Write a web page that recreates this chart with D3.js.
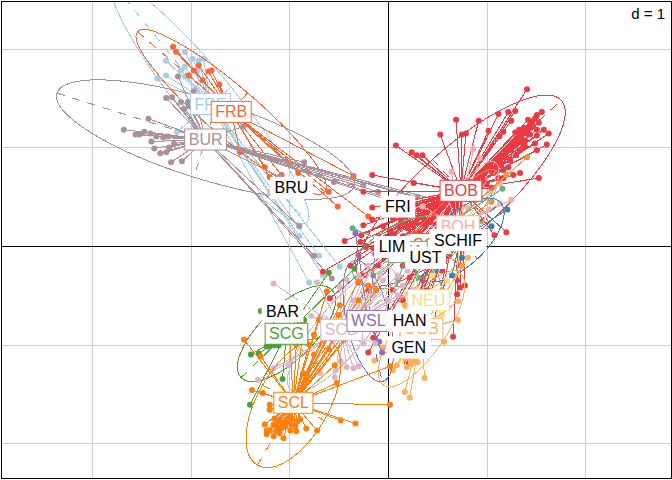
<!DOCTYPE html>
<html><head><meta charset="utf-8">
<script src="https://cdn.jsdelivr.net/npm/d3@7"></script>
<style>html,body{margin:0;padding:0;background:#fff}svg{display:block}</style>
</head><body><div id="chart"></div>
<script>
const gridTicksX = [-3,-2,-1,1,2];
const gridTicksY = [-2,-1,1,2];
const scaleNote = "d = 1";

const ptsBOB = [[1.41,1.59],[.69,1.28],[.92,1.27],[1.12,1.34],[1.22,1.36],[1.29,1.37],[1.25,1.27],[1.02,1.17],[1.17,1.16],[1.13,1.11],[1.29,1.15],[.75,1.13],[.79,1.14],[.53,1.13],[.08,1.02],[.24,.95],[.29,.92],[.35,.92],[-.16,.72],[.26,.64],[-.25,.55],[-.16,.39],[-.16,.27],[-.25,.21],[-.27,.11],[-.44,.05],[-.28,.04],[-.22,0],
[1.56,1.36],[1.51,1.33],[1.49,1.29],[1.46,1.26],[1.53,1.25],[1.44,1.23],[1.41,1.19],[1.37,1.16],[1.34,1.13],[1.30,1.09],[1.27,1.06],[1.58,1.18],[1.51,1.18],[1.63,1.14],[1.51,1.12],[1.44,1.13],[1.39,1.07],[1.49,1.04],[1.61,1.03],[1.51,.97],[1.39,1.01],[1.34,.97],[1.30,.92],[1.24,.87],[1.17,.77],[1.07,.74],[1.0,.63],[1.05,.59],[1.12,.69],[1.17,.69],[1.53,.69],[1.34,.74],[1.27,.72],[1.2,.14],[1.08,.11],[.97,.67],[1.19,.96],[1.14,.90],[1.5,1.3],[1.47,1.22],[1.42,1.28],[1.38,1.2],[1.33,1.18],[1.29,1.02],[1.35,1.05],[1.25,.98],[1.2,.9],[1.15,.82],[1.1,.8],[1.22,.8],
[1.45,1.2],[1.4,1.14],[1.35,1.09],[1.3,1.04],[1.24,.98],[1.18,.91],[1.13,.85],
[.12,.38],[.18,.30],[.25,.35],[.05,.28],[.1,.2],[.2,.18],[.28,.24],[.33,.3],[.38,.2],[.02,.15],[.15,.1],[-.05,.2],[-.1,.1],[.08,.04],[.25,.08],[.32,.12],[.4,.05],[-.15,-.02],[-.3,-.1],[-.38,-.2],[-.25,-.3],[-.1,-.2],[.05,-.1],[.15,-.2],[.3,-.15],[.22,-.32],[.35,-.35],[.45,-.3],[.55,-.25],[.48,-.12],[.62,-.1],[.7,-.35],[.78,-.4],[.3,-.5],[.15,-.55],[.05,-.45],[-.2,-.45],
[.06,.34],[.13,.27],[.19,.21],[.25,.21],[.31,.14],[.37,.27],[.43,.24],[.5,.22],[.35,.38],[.28,.42],[.18,.42],[.1,.44],[-.04,.36],[-.02,.09],[.12,0],[.28,0],[.06,.12],
[.41,-.55],[.3,-.6],[.5,-.6],[.25,-.75],[.35,-.8],[.22,-.72],[.4,-.45],[.55,-.5],[.28,-.47],[.32,-.88],[.45,-.85],
[-.66,-.26],[-.23,-.01],[-.59,-.53],[-.30,-.37],[-.15,-.93],[-.20,-1.08],[.19,-1.18],[.66,-.92],[.70,-.49],[.73,-.42]];
const ptsBOH = [[.865,.983],[.645,.753],[1.135,.635],[1.25,.47],[1.135,.43],[1.02,.37],[.81,.38],[.93,.89],[.6,.5],[.35,.4],[.5,-.05]];
const ptsBUR = [[-2.68,1.18],[-2.43,1.29],[-2.47,1.16],[-2.56,1.13],[-2.52,1.13],[-2.41,1.14],[-2.35,1.11],[-2.28,1.10],[-2.23,1.11],[-2.4,1.06],[-2.37,.99],[-2.22,1.0],[-2.17,1.04],[-2.31,.94],[-2.25,.95],[-2.2,.85],[-2.09,.86],[-2.25,1.50],[-2.19,1.51],[-2.1,1.46],[-2.03,1.46],[-2.07,1.39],[-2.02,1.42],[-2.13,1.72],[-1.97,1.57],[-1.47,1.21],[-.57,-.33],[-.25,.62],[-.1,.55],[.3,.5],[.45,.48],[.7,.38],[-.85,.85],[-1.1,.7],[-.9,.2],[-.75,-.1],[-.55,.65],[.05,.45],[.2,.42]];
const ptsFRB = [[-2.18,2.02],[-2.15,1.97],[-1.92,1.83],[-1.82,1.77],[-1.79,1.78],[-2.02,1.73],[-1.71,1.64],[-1.97,1.78],[-1.88,1.68],[-1.25,.8],[-1.2,.7],[-1.08,.72],[-.91,.74],[-.35,.71],[-.51,.40],[-.2,.3],[-.6,.55],[-1.5,.95]];
const ptsFRE = [[-2.06,1.97],[-2.25,1.88],[-1.98,1.90],[-1.92,1.88],[-1.87,1.90],[-2.06,1.82],[-2.1,1.78],[-1.93,1.78],[-2.06,1.72],[-2.25,1.73],[-2.34,1.70],[-2.14,1.16],[-.80,-.37],[-.66,-.30],[-.49,-.21],[-.9,.1],[-.7,-.1],[-1.2,.55]];
const ptsSCL = [[-1.46,-.95],[-1.38,-1.46],[-1.27,-1.49],[-1.29,-1.12],[-1.2,-1.61],[-1.2,-1.66],[-1.25,-1.81],[-1.23,-1.87],[-1.23,-1.91],[-1.16,-1.81],[-1.13,-1.88],[-1.16,-1.93],[-1.06,-1.95],[-1.1,-1.78],[-1.04,-1.83],[-1.01,-1.78],[-.98,-1.81],[-.93,-1.88],[-.92,-1.78],[-.98,-1.75],[-.89,-1.76],[-.83,-1.85],[-.72,-1.87],[-.48,-1.77],[-.33,-1.8],[.02,-1.61],[.02,-1.22],[-.52,-1.39],[-.54,-1.21],[-.62,-.46],[-.49,-.6],[-.3,-.36],[-.86,-1.29],[-1.13,-1.83],[-1.2,-1.87],[-1.03,-1.76],[-1.06,-1.8],[-.94,-1.83],[-1.15,-1.75],[-1.08,-1.85],[-.99,-1.87],[-1.1,-1.9],[-.75,-1.1],[-.65,-.9],[-.55,-.8],[-.4,-.7],[-.3,-.55],[-.2,-.4],[-.12,-.45],[-.7,-.75],[-.85,-.8],[-.6,-1.05],[-.45,-.95],[-.35,-.85],[-1.0,-.9],[-.93,-1.0],[-.8,-1.0],[-.5,-.7],[-.75,-.9]];
const ptsSCD = [[-1.16,-.38],[-.72,-.37],[-.48,-1.17],[-.42,-1.23],[-.35,-1.24],[-.3,-1.22],[-.53,-1.26],[-.69,-1.29],[-.54,-1.33],[-.86,-1.31],[-1.32,-1.36],[-1.16,-1.24],[-1.01,-1.21],[-1.18,-1.88],[-.13,-.99],[-.25,-.99],[-.49,-.41],[-.69,-.72],[-.78,-.71],[-.42,-.34],[-.08,-.28],[-.2,-.2],[-.05,-.35],[.1,-.3],[.2,-.25],[.05,-.15],[-.1,-.1],[.1,-.5],[.25,-.45],[.15,-.4],[-.3,-.3],[-.15,-.5],[0,-.55],[-.35,-.55],[-.25,-.7],[.05,-.75]];
const ptsSCG = [[-1.29,-.66],[-1.23,-1.02],[-1.39,-1.1],[-1.31,-1.09],[-1.15,-1.01],[-1.11,-1.01],[-1.07,-1.35],[-1.4,-1.61],[-1.2,-1.02],[-.34,-.23],[-.6,-.27],[-.85,-.75]];
const ptsWSL = [[-.33,.13],[-.06,-1.08],[-.13,-.08],[-.09,-.97]];
const ptsUOB = [[-.14,-1.16],[.17,-1.48],[.22,-1.54],[.37,-1.34],[.57,-.97],[.71,-.75],[.71,-.56],[.17,-1.14],[.07,-1.09],[.26,-1.16],[.19,-1.23],[.09,-1.21],[.05,-1.26],[.17,-.6],[-.05,-1.03],[.22,-1.14],[.3,-1.18],[.81,-.12],[.13,-1.11],[.24,-1.2],[.28,-1.12]];
const ptsSCO = [[1.41,.9],[1.2,.72],[1.05,.45],[.75,-.2],[.55,-.45],[.95,.25]];
const ptsNEU = [[.45,-.3],[.6,-.35],[.3,-.45],[.28,-.75],[.55,-.7],[.5,-.8],[.2,-.5]];
const ptsBLU = [[1.21,.37],[.75,-.12],[.95,.1],[1.05,.2],[.5,-.25],[.65,-.3]];
const ptsTEA = [[-.36,.18],[1.16,.58],[.1,-.35],[-.15,-.3],[.3,-.32]];

const groupNames  = ["FRE","FRB","BUR","BOB","BOH","SCO","BLU","TEA","NEU","UOB","SCG","WSL","SCD","SCL"];
const groupColors = ["#a6cee3","#f4683a","#ab9099","#ea3a43","#f7abab","#e9953a","#3a80b8","#6bae7f","#f3e08c","#fdb05a","#4d9f38","#8d6fb3","#d8b7c6","#ff7f0e"];
const groupPoints = [ptsFRE,ptsFRB,ptsBUR,ptsBOB,ptsBOH,ptsSCO,ptsBLU,ptsTEA,ptsNEU,ptsUOB,ptsSCG,ptsWSL,ptsSCD,ptsSCL];
const centerX = [-1.80,-1.59,-1.85,.74,.71,.43,.73,.20,.41,.34,-1.03,-.20,-.47,-.96];
const centerY = [1.44,1.36,1.08,.56,.20,.02,.06,-.06,-.55,-.84,-.89,-.76,-.85,-1.59];
const ellipseA = [1.55,1.25,1.58,1.37,.75,1.0,.56,.6,.7,.69,.64,.63,.8,.73];
const ellipseB = [.27,.255,.40,.43,.2,.2,.26,.3,.2,.25,.27,.22,.25,.36];
const ellipseRot = [51,40.5,17.3,-42,-60,-48,-43,-25,-70,-56,-44,77,-50,-60];

// label drawing order and text (hidden labels sit beneath later ones)
const labelText   = ["FRE","FRB","BUR","BRU","FRI","BOB","BOH","SCO","SCH","SCHIF","TEA","LIM","UST","NEU","UOB","SCD","SCG","BAR","WSL","HAN","GEN","SCL"];
const labelColor  = ["#a6cee3","#f4683a","#ab9099","#000","#000","#ea3a43","#f7abab","#c0722a","#3a80b8","#000","#6bae7f","#000","#000","#f3e08c","#fdb05a","#d8b7c6","#4d9f38","#000","#8d6fb3","#000","#000","#ff7f0e"];
const labelX = [-1.80,-1.59,-1.85,-.98,.10,.74,.71,.43,.73,.71,.20,.04,.38,.41,.34,-.47,-1.03,-1.07,-.20,.22,.21,-.96];
const labelY = [1.44,1.36,1.08,.59,.40,.56,.20,.02,.06,.06,-.06,-.01,-.12,-.55,-.84,-.85,-.89,-.66,-.76,-.76,-1.03,-1.59];

const W = 672, H = 480;
const x = d3.scaleLinear().domain([-3.925,2.87]).range([1,671]);
const y = d3.scaleLinear().domain([2.485,-2.353]).range([1,478]);
const unit = x(1)-x(0);

const svg = d3.select("#chart").append("svg").attr("width",W).attr("height",H);
svg.append("defs").append("clipPath").attr("id","panel").append("rect")
  .attr("x",1).attr("y",1).attr("width",670).attr("height",477);
svg.append("rect").attr("width",W).attr("height",H).attr("fill","#fff");

const xAxis = d3.axisBottom(x).tickValues(gridTicksX).tickSize(477).tickFormat("");
const yAxis = d3.axisRight(y).tickValues(gridTicksY).tickSize(670).tickFormat("");
const gx = svg.append("g").attr("transform","translate(0,1)").call(xAxis);
const gy = svg.append("g").attr("transform","translate(1,0)").call(yAxis);
[gx,gy].forEach(g=>{g.select(".domain").remove();g.selectAll("line").attr("stroke","#cccccc").attr("stroke-width",1).attr("shape-rendering","crispEdges");});

const plot = svg.append("g").attr("clip-path","url(#panel)");
plot.append("line").attr("x1",x(0)+.5).attr("x2",x(0)+.5).attr("y1",1).attr("y2",478).attr("stroke","#000").attr("stroke-width",1).attr("shape-rendering","crispEdges");
plot.append("line").attr("x1",1).attr("x2",671).attr("y1",y(0)+.5).attr("y2",y(0)+.5).attr("stroke","#000").attr("stroke-width",1).attr("shape-rendering","crispEdges");

// each class: ellipse with dashed axes, star, points
groupNames.forEach((n,i)=>{
  const g = plot.append("g")
    .attr("transform",`translate(${x(centerX[i])},${y(centerY[i])}) rotate(${ellipseRot[i]})`)
    .attr("fill","none").attr("stroke",groupColors[i]).attr("stroke-width",1).attr("shape-rendering","crispEdges");
  g.append("ellipse").attr("rx",ellipseA[i]*unit).attr("ry",ellipseB[i]*unit);
  g.append("line").attr("x1",-ellipseA[i]*unit).attr("x2",ellipseA[i]*unit).attr("stroke-dasharray","8 8");
  g.append("line").attr("y1",-ellipseB[i]*unit).attr("y2",ellipseB[i]*unit).attr("stroke-dasharray","8 8");
  plot.append("g").attr("shape-rendering","crispEdges").selectAll("line").data(groupPoints[i]).join("line")
    .attr("x1",x(centerX[i])).attr("y1",y(centerY[i]))
    .attr("x2",d=>x(d[0])).attr("y2",d=>y(d[1]))
    .attr("stroke",groupColors[i]).attr("stroke-width",1);
  plot.append("g").selectAll("circle").data(groupPoints[i]).join("circle")
    .attr("cx",d=>x(d[0])).attr("cy",d=>y(d[1])).attr("r",3.0)
    .attr("fill",groupColors[i]);
});
// labels
labelText.forEach((t,i)=>{
  const g = plot.append("g").attr("transform",`translate(${x(labelX[i])},${y(labelY[i])})`);
  const txt = g.append("text").attr("text-anchor","middle").attr("y",5.5)
    .attr("font-family","'Liberation Sans',Arial,sans-serif").attr("font-size",16).attr("fill",labelColor[i]).text(t);
  const w = txt.node().getComputedTextLength()+8;
  g.insert("rect","text").attr("x",-w/2).attr("y",-10.5).attr("width",w).attr("height",21)
    .attr("fill","#fff").attr("stroke",labelColor[i]==="#000"?"#fff":labelColor[i]).attr("stroke-width",1);
});
// frame
svg.append("rect").attr("x",1.5).attr("y",1.5).attr("width",669.5).attr("height",476.5).attr("fill","none").attr("stroke","#000").attr("stroke-width",1).attr("shape-rendering","crispEdges");
// scale box
const nb = svg.append("g");
nb.append("rect").attr("x",625).attr("y",3).attr("width",45).attr("height",22).attr("fill","#fff");
nb.append("text").attr("x",665).attr("y",19).attr("text-anchor","end")
  .attr("font-family","'Liberation Sans',Arial,sans-serif").attr("font-size",15).attr("fill","#000").text(scaleNote);
</script></body></html>
